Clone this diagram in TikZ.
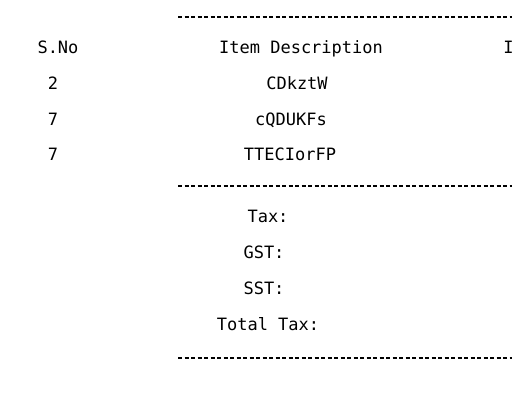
\documentclass[tikz,border=0pt]{standalone}
\usepackage{fontspec}
\newfontfamily\billfont{DejaVu Sans Mono}
\usetikzlibrary{positioning}
\tikzset{
  cell/.style={
    font=\billfont\fontsize{8.5}{10}\selectfont,
    inner sep=0pt,
    anchor=base
  },
  rule/.style={
    line width=0.75pt,
    dash pattern=on 2pt off 1.25pt
  }
}

\begin{document}
\begin{tikzpicture}[x=0.5pt,y=-0.5pt]
\useasboundingbox (0,0) rectangle (512,400);

% separator lines
\foreach \y/\n in {17/top,186/mid,358/bot}
{
  \coordinate (\n-l) at (178,\y);
  \coordinate (\n-r) at (512,\y);
  \draw[rule] (\n-l) -- (\n-r);
}

% header
\node[cell] (sno)  at (58,54)  {S.No};
\node[cell] (desc) at (301,54) {Item Description};
\node[cell,anchor=base west] (price) at (503,54) {I};

% items
\node[cell] (no1)   at (53,90)    {2};
\node[cell] (no2)   at (53,125.5) {7};
\node[cell] (no3)   at (53,161)   {7};
\node[cell] (item1) at (297,90)    {CDkztW};
\node[cell] (item2) at (291,125.5) {cQDUKFs};
\node[cell] (item3) at (290,161)   {TTECIorFP};

% taxes
\node[cell] (tax)   at (268,222) {Tax:};
\node[cell] (gst)   at (264,258) {GST:};
\node[cell] (sst)   at (264,294) {SST:};
\node[cell] (total) at (268,330) {Total Tax:};

\end{tikzpicture}
\end{document}
